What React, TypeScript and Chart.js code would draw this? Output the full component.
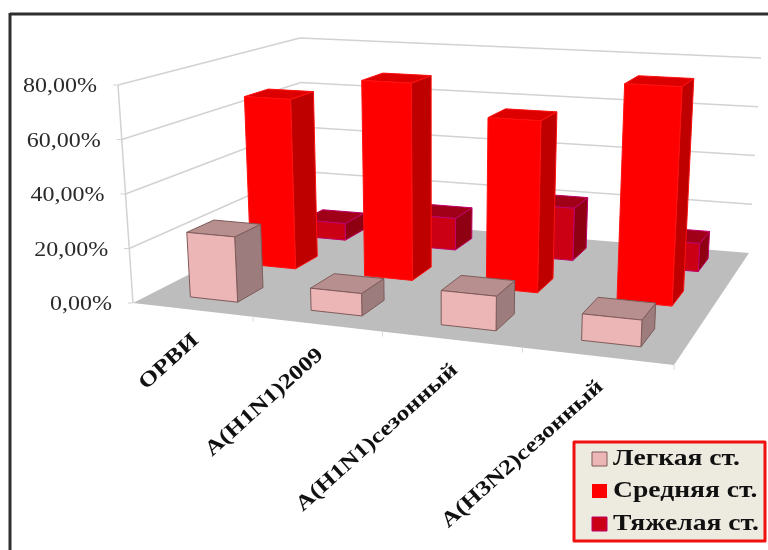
import React, { useEffect, useRef } from "react";
import { Chart, registerables } from "chart.js";

Chart.register(...registerables);

const categories = ["ОРВИ", "A(H1N1)2009", "A(H1N1)сезонный", "A(H3N2)сезонный"];
const seriesNames = ["Легкая ст.", "Средняя ст.", "Тяжелая ст."];
const mildValues = [24, 8, 12, 9];
const moderateValues = [67, 76, 64.5, 80];
const severeValues = [7, 13, 21, 11];

type Pt = [number, number];

// Perspective corners of the 3D box: front-left, front-right, back-right, back-left.
const FLOOR: Pt[] = [[133, 303], [674, 365], [749, 253], [304, 216]];
const CEILING: Pt[] = [[118, 85], [685, 119], [761, 58], [300, 38]];

const FACES = [
  { front: "#EDB6B6", side: "#9C7C7C", top: "#B88F8F", edge: "#7F5B5B" },
  { front: "#FF0000", side: "#BE0000", top: "#DC0000", edge: "#FF1010" },
  { front: "#CB0015", side: "#8E0012", top: "#A00018", edge: "#C0006A" },
];

const BAR_U = 0.4;
const BAR_V = 0.42;
const BAR_SHIFT = 0.006;
const TEXT_STRETCH = 1.2;
const LABEL_STRETCH = 1.22;
const LABEL_ANGLE = (42 * Math.PI) / 180;

function quadMap(q: Pt[]) {
  const [[x0, y0], [x1, y1], [x2, y2], [x3, y3]] = q;
  const dx1 = x1 - x2, dx2 = x3 - x2, sx = x0 - x1 + x2 - x3;
  const dy1 = y1 - y2, dy2 = y3 - y2, sy = y0 - y1 + y2 - y3;
  const den = dx1 * dy2 - dx2 * dy1;
  const g = (sx * dy2 - dx2 * sy) / den;
  const h = (dx1 * sy - sx * dy1) / den;
  const a = x1 - x0 + g * x1, b = x3 - x0 + h * x3;
  const d = y1 - y0 + g * y1, e = y3 - y0 + h * y3;
  return (u: number, v: number): Pt => {
    const k = g * u + h * v + 1;
    return [(a * u + b * v + x0) / k, (d * u + e * v + y0) / k];
  };
}

const floorAt = quadMap(FLOOR);
const ceilingAt = quadMap(CEILING);

function project(u: number, v: number, w: number): Pt {
  const p = floorAt(u, v);
  const q = ceilingAt(u, v);
  return [p[0] + (q[0] - p[0]) * w, p[1] + (q[1] - p[1]) * w];
}

function polygon(ctx: CanvasRenderingContext2D, pts: Pt[], fill: string, stroke?: string, lw = 1) {
  ctx.beginPath();
  pts.forEach((p, i) => (i ? ctx.lineTo(p[0], p[1]) : ctx.moveTo(p[0], p[1])));
  ctx.closePath();
  ctx.fillStyle = fill;
  ctx.fill();
  if (stroke) {
    ctx.strokeStyle = stroke;
    ctx.lineWidth = lw;
    ctx.lineJoin = "round";
    ctx.stroke();
  }
}

function segment(ctx: CanvasRenderingContext2D, a: Pt, b: Pt, color: string, lw: number) {
  ctx.beginPath();
  ctx.moveTo(a[0], a[1]);
  ctx.lineTo(b[0], b[1]);
  ctx.strokeStyle = color;
  ctx.lineWidth = lw;
  ctx.stroke();
}

function stretchedText(ctx: CanvasRenderingContext2D, text: string, x: number, y: number, align: CanvasTextAlign) {
  ctx.save();
  ctx.translate(x, y);
  ctx.scale(TEXT_STRETCH, 1);
  ctx.textAlign = align;
  ctx.textBaseline = "middle";
  ctx.fillText(text, 0, 0);
  ctx.restore();
}

// Draws the walls, floor, columns, axis labels and legend from the chart's own scales.
const scene3d = {
  id: "scene3d",
  beforeDraw(chart: any) {
    const ctx: CanvasRenderingContext2D = chart.ctx;
    ctx.save();
    ctx.fillStyle = "#FFFFFF";
    ctx.fillRect(0, 0, chart.width, chart.height);
    segment(ctx, [10, 14], [768, 14], "#2E2E2E", 3);
    segment(ctx, [10, 13], [10, 550], "#2E2E2E", 3);
    ctx.restore();
  },
  beforeDatasetsDraw(chart: any) {
    const ctx: CanvasRenderingContext2D = chart.ctx;
    const { x: xs, y: ys } = chart.scales;
    const area = chart.chartArea;
    const uOf = (i: number) => (xs.getPixelForValue(i) - area.left) / (area.right - area.left);
    const wOf = (val: number) => (area.bottom - ys.getPixelForValue(val)) / (area.bottom - area.top);
    const GRID = "#D2D2D2";

    ctx.save();
    // walls
    ys.ticks.forEach((t: any) => {
      const w = wOf(t.value);
      if (w > 0) {
        segment(ctx, project(0, 0, w), project(0, 1, w), GRID, 1.5);
        segment(ctx, project(0, 1, w), project(1, 1, w), GRID, 1.5);
      }
      const p = project(0, 0, w);
      segment(ctx, p, [p[0] - 5, p[1]], GRID, 1);
    });
    segment(ctx, project(0, 0, 0), project(0, 0, 1), GRID, 1.5);
    // floor
    polygon(ctx, [project(0, 0, 0), project(1, 0, 0), project(1, 1, 0), project(0, 1, 0)], "#BDBDBD");
    // category separators below the floor edge
    categories.forEach((_, i) => {
      const p = project((i + 1) / categories.length, 0, 0);
      segment(ctx, p, [p[0], p[1] + 5], "#DADADA", 1);
    });

    // columns, back row first, left to right within a row
    const nRows = chart.data.datasets.length;
    const bandU = 1 / categories.length;
    for (let s = nRows - 1; s >= 0; s--) {
      const vals: number[] = chart.data.datasets[s].data;
      const c = FACES[s];
      const v0 = (s + 0.5 - BAR_V / 2) / nRows;
      const v1 = (s + 0.5 + BAR_V / 2) / nRows;
      vals.forEach((val, i) => {
        const mid = uOf(i) + BAR_SHIFT;
        const u0 = mid - (bandU * BAR_U) / 2;
        const u1 = mid + (bandU * BAR_U) / 2;
        const w = wOf(val);
        polygon(ctx, [project(u1, v0, 0), project(u1, v1, 0), project(u1, v1, w), project(u1, v0, w)], c.side, c.edge);
        polygon(ctx, [project(u0, v0, w), project(u1, v0, w), project(u1, v1, w), project(u0, v1, w)], c.top, c.edge);
        polygon(ctx, [project(u0, v0, 0), project(u1, v0, 0), project(u1, v0, w), project(u0, v0, w)], c.front, c.edge);
      });
    }

    // value labels on the slanted vertical edge
    ctx.fillStyle = "#2A2A2A";
    ctx.font = '20px "Liberation Serif"';
    ys.ticks.forEach((t: any) => {
      const p = project(0, 0, wOf(t.value));
      stretchedText(ctx, t.label, p[0] - 21, p[1] + 2, "right");
    });

    // category labels slanted under the front edge
    ctx.fillStyle = "#111111";
    ctx.font = 'bold 21px "Liberation Serif"';
    categories.forEach((name, i) => {
      const p = project(uOf(i), 0, 0);
      ctx.save();
      ctx.translate(p[0] + 4, p[1] + 28);
      ctx.rotate(-LABEL_ANGLE);
      ctx.scale(LABEL_STRETCH, 1);
      ctx.textAlign = "right";
      ctx.textBaseline = "middle";
      ctx.fillText(name, 0, 0);
      ctx.restore();
    });

    // legend
    polygon(ctx, [[574, 442], [765, 442], [765, 541], [574, 541]], "#EDEAE0", "#F01010", 3);
    const rowY = [459, 491, 524];
    chart.data.datasets.forEach((ds: any, s: number) => {
      const y = rowY[s];
      polygon(ctx, [[592, y - 7], [607, y - 7], [607, y + 7], [592, y + 7]], FACES[s].front, s === 1 ? undefined : FACES[s].edge, 1);
      ctx.fillStyle = "#111111";
      ctx.font = 'bold 23px "Liberation Serif"';
      stretchedText(ctx, ds.label, 613, y, "left");
    });
    ctx.restore();
    return false;
  },
};

export default function App() {
  const ref = useRef<HTMLCanvasElement>(null);
  useEffect(() => {
    const chart = new Chart(ref.current!, {
      type: "bar",
      data: {
        labels: categories,
        datasets: [
          { label: seriesNames[0], data: mildValues, backgroundColor: FACES[0].front },
          { label: seriesNames[1], data: moderateValues, backgroundColor: FACES[1].front },
          { label: seriesNames[2], data: severeValues, backgroundColor: FACES[2].front },
        ],
      },
      plugins: [scene3d],
      options: {
        responsive: false,
        animation: false,
        layout: { padding: { left: 133, right: 94, top: 85, bottom: 247 } },
        plugins: { legend: { display: false }, tooltip: { enabled: false } },
        scales: {
          x: { display: false, grid: { display: false } },
          y: {
            min: 0,
            max: 80,
            afterFit: (s: any) => { s.width = 0; },
            grid: { display: false },
            border: { display: false },
            ticks: {
              stepSize: 20,
              display: false,
              callback: (v: any) => Number(v).toFixed(2).replace(".", ",") + "%",
            },
          },
        },
      },
    });
    return () => chart.destroy();
  }, []);
  return (
    <div style={{ position: "fixed", left: 0, top: 0, width: 768, height: 550 }}>
      <canvas ref={ref} width={768} height={550} style={{ display: "block" }} />
    </div>
  );
}
